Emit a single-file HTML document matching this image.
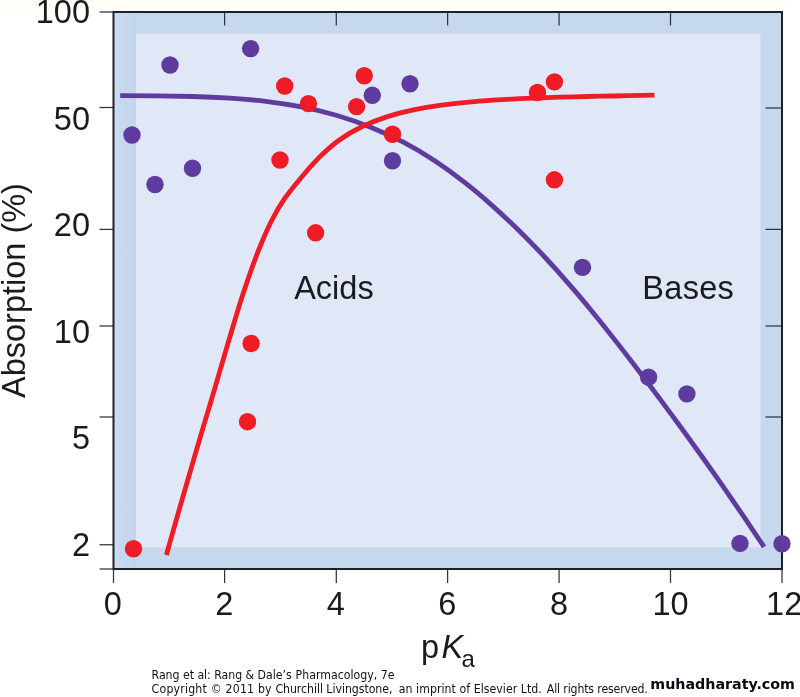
<!DOCTYPE html>
<html lang="en"><head><meta charset="utf-8"><title>Absorption vs pKa</title>
<style>html,body{margin:0;padding:0;background:#fff;}body{width:800px;height:697px;overflow:hidden;}svg{display:block;}</style></head>
<body>
<svg width="800" height="697" viewBox="0 0 800 697">
<defs><linearGradient id="lg" x1="0" x2="1" y1="0" y2="0"><stop offset="0" stop-color="#d3deee"/><stop offset="0.008" stop-color="#c6d9ef"/><stop offset="0.02" stop-color="#c6d8ee"/><stop offset="0.032" stop-color="#c2d5ec"/><stop offset="0.04" stop-color="#c6d8ee"/><stop offset="1" stop-color="#c6d8ee"/></linearGradient></defs>
<rect x="0" y="0" width="800" height="697" fill="#ffffff"/>
<rect x="0" y="0" width="786" height="10" fill="#fffef8"/>
<rect x="113.5" y="12" width="668.5" height="557" fill="url(#lg)"/>
<rect x="136" y="33.5" width="624.5" height="513.8" fill="#e0e7f7"/>
<g stroke="#33343a" stroke-width="1.25" fill="none">
<path d="M99.5,12H113.5"/>
<path d="M99.5,107.5H113.5"/>
<path d="M99.5,229.4H113.5"/>
<path d="M99.5,326H113.5"/>
<path d="M99.5,417H113.5"/>
<path d="M99.5,544.75H113.5"/>
<path d="M99.5,569H113.5"/>
<path d="M765.5,108H781"/>
<path d="M765.5,229.4H781"/>
<path d="M765.5,326H781"/>
<path d="M765.5,417H781"/>
<path d="M113.5,569V583"/>
<path d="M224.6,569V583"/>
<path d="M336.3,569V583"/>
<path d="M447.6,569V583"/>
<path d="M559.1,569V583"/>
<path d="M670.5,569V583"/>
<path d="M782,569V583"/>
<path d="M224.6,12V25.5"/>
<path d="M336.3,12V25.5"/>
<path d="M447.6,12V25.5"/>
<path d="M559.1,12V25.5"/>
<path d="M670.5,12V25.5"/>
</g>
<rect x="113.5" y="12" width="668.5" height="557" fill="none" stroke="#1e202a" stroke-width="2"/>
<path d="M120.2,95.7C132.3,95.7 144.4,95.8 156.6,95.9C168.7,96.0 180.8,96.2 193.0,96.5C205.1,96.8 217.3,97.3 229.5,98.1C241.6,98.9 253.7,99.9 265.8,101.3C277.8,102.8 289.8,104.6 301.7,106.9C313.6,109.2 325.3,112.1 337.0,115.5C348.6,118.9 360.1,122.9 371.3,127.4C382.5,131.9 393.6,137.0 404.3,142.7C415.0,148.3 425.4,154.6 435.5,161.3C445.6,168.0 455.4,175.2 464.9,182.7C474.5,190.2 483.8,198.1 492.8,206.1C501.9,214.2 510.7,222.5 519.4,231.0C528.0,239.5 536.4,248.2 544.7,257.0C553.0,265.9 561.1,274.9 569.0,284.1C577.0,293.2 584.8,302.5 592.5,311.9C600.2,321.3 607.8,330.8 615.2,340.4C622.7,349.9 630.1,359.6 637.5,369.2C644.8,378.9 652.1,388.6 659.4,398.3C666.6,408.0 673.8,417.8 681.0,427.5C688.1,437.3 695.2,447.1 702.3,457.0C709.3,466.8 716.3,476.7 723.2,486.6C730.1,496.6 737.0,506.6 743.8,516.7C750.6,526.7 757.3,536.8 764.1,546.9" fill="none" stroke="#5f3ba0" stroke-width="4.8"/>
<path d="M166.4,555.0C168.8,546.4 171.2,537.7 173.7,529.1C176.1,520.5 178.5,511.9 181.0,503.3C183.5,494.7 186.0,486.1 188.5,477.5C191.0,468.9 193.5,460.3 196.0,451.7C198.6,443.1 201.1,434.5 203.6,425.9C206.2,417.3 208.7,408.7 211.3,400.2C213.8,391.6 216.3,383.0 218.9,374.4C221.4,365.8 223.9,357.2 226.4,348.6C229.0,340.0 231.5,331.4 234.1,322.8C236.7,314.2 239.3,305.6 242.0,297.1C244.8,288.6 247.6,280.1 250.6,271.7C253.6,263.2 256.7,254.8 260.1,246.5C263.4,238.2 267.0,230.0 270.9,222.0C274.9,214.0 279.3,206.2 284.4,198.9C289.5,191.5 295.3,184.6 301.1,177.7C306.8,170.8 312.7,164.1 318.9,157.7C325.2,151.4 331.8,145.4 339.0,140.2C346.3,135.0 354.1,130.4 362.3,126.5C370.4,122.6 378.9,119.3 387.4,116.6C395.9,113.8 404.6,111.6 413.3,109.8C422.1,108.0 430.9,106.5 439.8,105.3C448.6,104.1 457.5,103.2 466.5,102.4C475.4,101.5 484.3,100.8 493.2,100.2C502.2,99.6 511.1,99.1 520.1,98.6C529.0,98.2 538.0,97.9 546.9,97.6C555.9,97.3 564.8,97.0 573.8,96.8C582.8,96.6 591.7,96.4 600.7,96.2C609.7,96.1 618.6,95.9 627.6,95.7C636.5,95.5 645.5,95.3 654.4,95.1" fill="none" stroke="#ee1c25" stroke-width="4.8"/>
<g fill="#5f3ba0">
<circle cx="170" cy="65" r="8.7"/>
<circle cx="250.6" cy="48.6" r="8.7"/>
<circle cx="132" cy="135" r="8.7"/>
<circle cx="192.5" cy="168.25" r="8.7"/>
<circle cx="155" cy="184.5" r="8.7"/>
<circle cx="372.3" cy="95.3" r="8.7"/>
<circle cx="410" cy="83.75" r="8.7"/>
<circle cx="392.5" cy="160.75" r="8.7"/>
<circle cx="582.5" cy="267.4" r="8.7"/>
<circle cx="648.6" cy="377.2" r="8.7"/>
<circle cx="686.9" cy="393.9" r="8.7"/>
<circle cx="740" cy="543.4" r="8.7"/>
<circle cx="782" cy="543.75" r="8.7"/>
</g>
<g fill="#ee1c25">
<circle cx="284.7" cy="86" r="8.7"/>
<circle cx="308.4" cy="103.6" r="8.7"/>
<circle cx="280" cy="160" r="8.7"/>
<circle cx="364.25" cy="75.75" r="8.7"/>
<circle cx="356.6" cy="106.6" r="8.7"/>
<circle cx="392.5" cy="134.25" r="8.7"/>
<circle cx="554.4" cy="81.9" r="8.7"/>
<circle cx="537.5" cy="92.5" r="8.7"/>
<circle cx="554.4" cy="179.8" r="8.7"/>
<circle cx="315.6" cy="232.8" r="8.7"/>
<circle cx="251.1" cy="343.5" r="8.7"/>
<circle cx="247.5" cy="421.7" r="8.7"/>
<circle cx="133.5" cy="548.75" r="8.7"/>
</g>
<g font-family="'Liberation Sans', sans-serif" font-size="32.5" fill="#1a1a1f">
<text x="90" y="23" text-anchor="end">100</text>
<text x="90" y="130" text-anchor="end">50</text>
<text x="90" y="236.25" text-anchor="end">20</text>
<text x="90" y="342.75" text-anchor="end">10</text>
<text x="90" y="449.4" text-anchor="end">5</text>
<text x="90" y="556.25" text-anchor="end">2</text>
<text x="112.9" y="615.4" text-anchor="middle">0</text>
<text x="224.3" y="615.4" text-anchor="middle">2</text>
<text x="335.7" y="615.4" text-anchor="middle">4</text>
<text x="447.4" y="615.4" text-anchor="middle">6</text>
<text x="559.1" y="615.4" text-anchor="middle">8</text>
<text x="670.6" y="615.4" text-anchor="middle">10</text>
<text x="784.2" y="615.4" text-anchor="middle">12</text>
<text x="294.2" y="298.8">Acids</text>
<text x="642.3" y="298.8" letter-spacing="0.3">Bases</text>
<text transform="translate(24.5,398) rotate(-90)">Absorption (%)</text>
<text x="421" y="658">p<tspan font-style="italic" dx="2.5">K</tspan><tspan font-size="24" dy="8.5" dx="-1.7">a</tspan></text>
</g>
<g font-family="'DejaVu Sans Condensed', 'DejaVu Sans', 'Liberation Sans', sans-serif" font-size="12.2" fill="#111">
<text y="678.8"><tspan x="151.6" textLength="140" lengthAdjust="spacing">Rang et al: Rang &amp; Dale’s</tspan> <tspan x="295.6" textLength="99" lengthAdjust="spacing">Pharmacology, 7e</tspan></text>
<text y="693"><tspan x="151.6" textLength="120" lengthAdjust="spacing">Copyright © 2011 by</tspan> <tspan x="275.4" textLength="117" lengthAdjust="spacing">Churchill Livingstone,</tspan> <tspan x="398.8" textLength="143" lengthAdjust="spacing">an imprint of Elsevier Ltd.</tspan> <tspan x="546.8" textLength="101" lengthAdjust="spacing">All rights reserved.</tspan></text>
</g>
<text x="650.3" y="688.6" font-family="'DejaVu Sans', 'Liberation Sans', sans-serif" font-weight="bold" font-size="14.25" fill="#0a0a14">muhadharaty.com</text>
</svg>
</body></html>
